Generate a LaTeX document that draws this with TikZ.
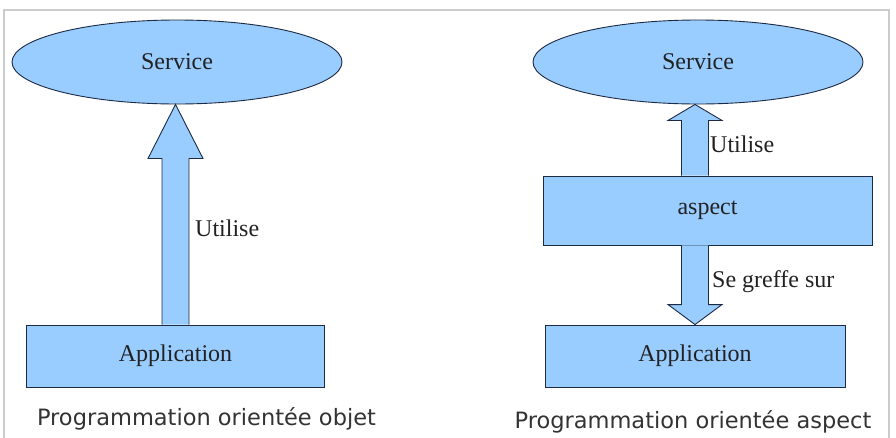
\documentclass[tikz,border=0pt]{standalone}
\usepackage{fontspec}
\setmainfont{Liberation Serif}
\newfontfamily\capfont{DejaVu Sans}
\usetikzlibrary{shapes.geometric,calc}
\definecolor{boxblue}{HTML}{99CCFF}
\definecolor{edge}{HTML}{1C2A44}
\definecolor{framegray}{HTML}{CCCCCC}
\definecolor{txt}{HTML}{222222}
\tikzset{
  shapebase/.style={draw=edge, fill=boxblue, line width=0.9pt, inner sep=0pt, text=txt, font=\fontsize{24}{26}\selectfont},
  oval/.style={shapebase, ellipse, minimum width=330pt, minimum height=84pt},
  rectbox/.style={shapebase, rectangle},
  fatarrow/.style={draw=edge, fill=boxblue, line width=0.9pt, line join=miter},
  lbl/.style={anchor=west, inner sep=0pt, text=txt, font=\fontsize{24}{26}\selectfont},
  caption/.style={inner sep=0pt, text=black!80, font=\capfont\fontsize{22.5}{24}\selectfont}
}
\begin{document}
\begin{tikzpicture}[x=1pt,y=-1pt]
\useasboundingbox (0,0) rectangle (896,437);
\draw[framegray, line width=1.2pt] (4,440) -- (4,10) -- (889,10) -- (889,440);

% left diagram
\node[oval] (servL) at (177,62) {Service};
\node[rectbox, minimum width=298pt, minimum height=62pt] (appL) at (175.5,356) {Application};
\draw[fatarrow] ($(appL.north)+(-13.5,0)$) -- ($(servL.south -| appL.north)+(-13.5,54)$) -- ($(servL.south -| appL.north)+(-27.5,54)$) -- (servL.south -| appL.north) -- ($(servL.south -| appL.north)+(27.5,54)$) -- ($(servL.south -| appL.north)+(13.5,54)$) -- ($(appL.north)+(13.5,0)$);
\node[lbl] (uL) at (195,228) {Utilise};
\node[caption] (capL) at (206.5,419) {Programmation orientée objet};

% right diagram
\node[oval] (servR) at (698,62) {Service};
\node[rectbox, minimum width=329pt, minimum height=69pt] (asp) at (707.5,210.5) {aspect};
\node[rectbox, minimum width=300pt, minimum height=62pt] (appR) at (695,356) {Application};
\draw[fatarrow] ($(asp.north -| appR.north)+(-13.5,0)$) -- ($(servR.south -| appR.north)+(-13.5,16)$) -- ($(servR.south -| appR.north)+(-27,16)$) -- (servR.south -| appR.north) -- ($(servR.south -| appR.north)+(27,16)$) -- ($(servR.south -| appR.north)+(13.5,16)$) -- ($(asp.north -| appR.north)+(13.5,0)$);
\draw[fatarrow] ($(asp.south -| appR.north)+(-13.5,0)$) -- ($(appR.north)+(-13.5,-20)$) -- ($(appR.north)+(-27,-20)$) -- (appR.north) -- ($(appR.north)+(27,-20)$) -- ($(appR.north)+(13.5,-20)$) -- ($(asp.south -| appR.north)+(13.5,0)$);
\node[lbl] (uR) at (710,144) {Utilise};
\node[lbl] (gR) at (712,282) {Se greffe sur};
\node[caption] (capR) at (693,422) {Programmation orientée aspect};
\end{tikzpicture}
\end{document}
